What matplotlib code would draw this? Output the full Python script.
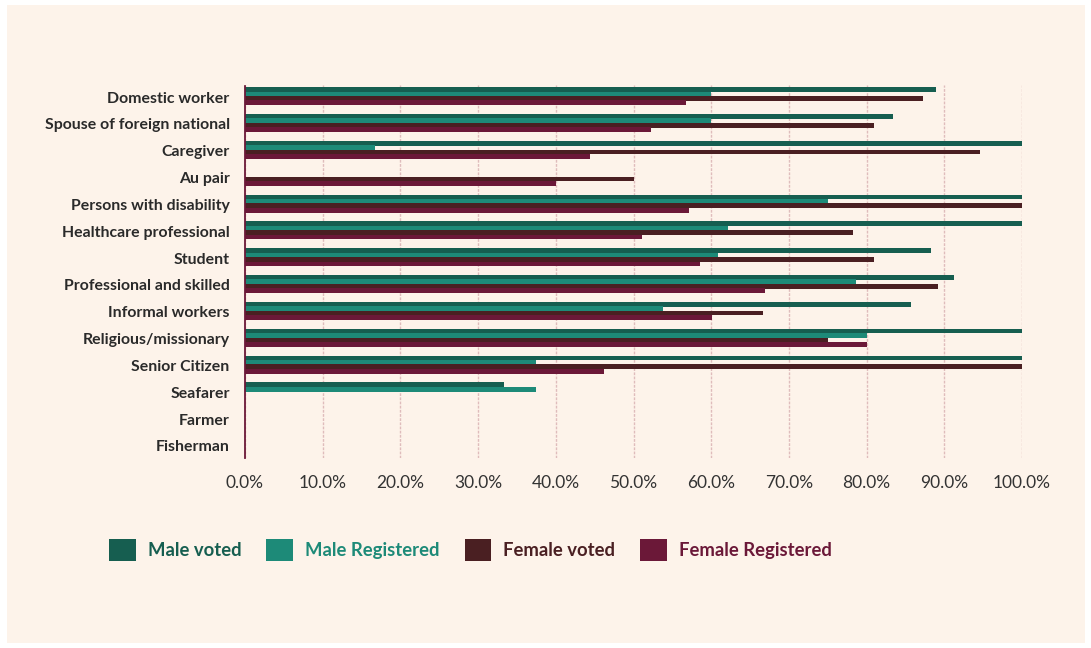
import numpy as np
import matplotlib
matplotlib.use("Agg")
import matplotlib.pyplot as plt
from matplotlib.patches import Patch, Rectangle
from matplotlib.ticker import FuncFormatter

plt.rcParams['font.family'] = ['Lato', 'DejaVu Sans']

# データ
categories = ["Domestic worker", "Spouse of foreign national", "Caregiver", "Au pair",
              "Persons with disability", "Healthcare professional", "Student",
              "Professional and skilled", "Informal workers", "Religious/missionary",
              "Senior Citizen", "Seafarer", "Farmer", "Fisherman"]
male_voted = [88.9, 83.4, 100, 0, 100, 100, 88.3, 91.3, 85.7, 100, 100, 33.3, 0, 0]
male_registered = [60.0, 60.0, 16.7, 0, 75.0, 62.2, 60.9, 78.6, 53.8, 80.0, 37.5, 37.5, 0, 0]
female_voted = [87.3, 81.0, 94.6, 50.0, 100, 78.3, 80.9, 89.2, 66.7, 75.0, 100, 0, 0, 0]
female_registered = [56.7, 52.3, 44.4, 40.0, 57.2, 51.1, 58.5, 66.9, 60.1, 80.0, 46.2, 0, 0, 0]

series = [("Male voted", male_voted, "#165e50"),
          ("Male Registered", male_registered, "#1d8a78"),
          ("Female voted", female_voted, "#4a1f22"),
          ("Female Registered", female_registered, "#6b1838")]

bg = "#fdf3ea"
fig = plt.figure(figsize=(10.91, 6.48), dpi=100)
fig.patch.set_facecolor("white")
# 背景パネル
fig.patches.append(Rectangle((7 / 1091, 5 / 648), 1078 / 1091, 638 / 648,
                             transform=fig.transFigure, facecolor=bg,
                             edgecolor="none", zorder=-10))

ax = fig.add_axes([245 / 1091, 1 - 458 / 648, 777 / 1091, 373 / 648])
ax.set_facecolor(bg)

y = np.arange(len(categories))
offsets = [-0.28, -0.115, 0.05, 0.215]
h = 0.175
for (name, vals, col), off in zip(series, offsets):
    ax.barh(y + off, vals, height=h, color=col, zorder=3, label=name)

ax.set_xlim(0, 100)
ax.set_ylim(len(categories) - 0.55, -0.45)
ax.set_xticks(np.arange(0, 101, 10))
ax.xaxis.set_major_formatter(FuncFormatter(lambda v, p: f"{v:.1f}%"))
ax.set_yticks(y)
ax.set_yticklabels(categories, fontsize=11.4, fontweight="bold", color="#2a2a2a")
ax.tick_params(axis="y", length=0, pad=11)
ax.tick_params(axis="x", length=0, pad=12, labelsize=12.5, labelcolor="#333333")

ax.grid(axis="x", color="#dfbcbc", linestyle=(0, (2, 1)), linewidth=1.0, zorder=0)
for s in ["top", "right", "bottom"]:
    ax.spines[s].set_visible(False)
ax.spines["left"].set_color("#6b1838")
ax.spines["left"].set_linestyle((0, (2, 1)))
ax.spines["left"].set_linewidth(1.3)
ax.spines["left"].set_zorder(5)

handles = [Patch(facecolor=c, edgecolor="none") for _, _, c in series]
labels = [n for n, _, _ in series]
leg = fig.legend(handles, labels, loc="center left", bbox_to_anchor=(109 / 1091, 1 - 550 / 648),
                 ncol=4, frameon=False, handlelength=1.45, handleheight=1.45,
                 handletextpad=0.65, columnspacing=1.35, borderpad=0, borderaxespad=0,
                 prop={"size": 13.3, "weight": "bold"})
for t, (_, _, c) in zip(leg.get_texts(), series):
    t.set_color(c)

fig.savefig("out.png", dpi=100, facecolor=fig.get_facecolor())
